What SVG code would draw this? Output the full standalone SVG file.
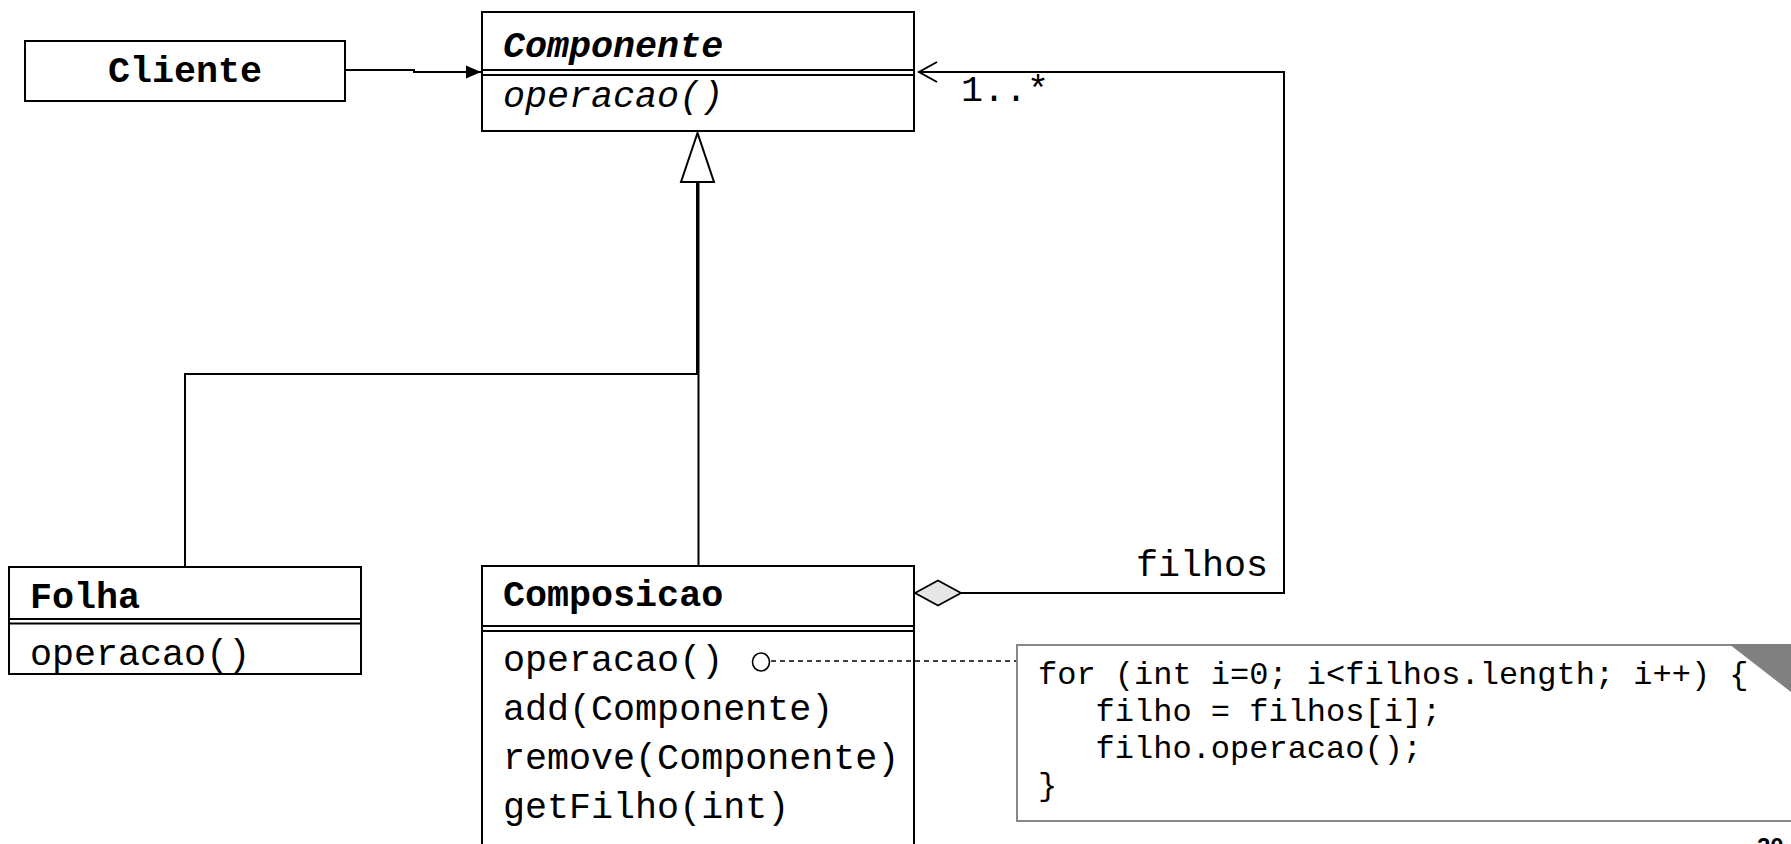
<svg xmlns="http://www.w3.org/2000/svg" width="1791" height="844" viewBox="0 0 1791 844">
<style>
.box{fill:#fff;stroke:#000;stroke-width:2}
.sep{stroke:#000;stroke-width:1.8}
.t{font-family:"Liberation Mono","Courier New",monospace;font-size:36.7px;fill:#000}
.b{font-weight:bold}
.i{font-style:italic}
.edge{fill:none;stroke:#000;stroke-width:2}
.note{font-family:"Liberation Mono","Courier New",monospace;font-size:32px;fill:#000}
</style>
<defs>
<marker id="filled" markerUnits="userSpaceOnUse" markerWidth="16" markerHeight="14" refX="15" refY="7" orient="auto">
<path d="M0,0.5 L15,7 L0,13.5 Z" fill="#000"/>
</marker>
</defs>
<rect width="1791" height="844" fill="#fff"/>

<g id="cliente">
<rect class="box" x="25" y="41" width="320" height="60"/>
<text class="t b" x="185" y="82" text-anchor="middle">Cliente</text>
</g>

<g id="componente">
<rect class="box" x="482" y="12" width="432" height="119"/>
<line class="sep" x1="482" y1="70" x2="914" y2="70"/>
<line class="sep" x1="482" y1="75" x2="914" y2="75"/>
<text class="t b i" x="503" y="57">Componente</text>
<text class="t i" x="503" y="107">operacao()</text>
</g>

<g id="folha">
<rect class="box" x="9" y="567" width="352" height="107"/>
<line class="sep" x1="9" y1="619" x2="361" y2="619"/>
<line class="sep" x1="9" y1="623.5" x2="361" y2="623.5"/>
<text class="t b" x="30" y="608">Folha</text>
<text class="t" x="30" y="665">operacao()</text>
</g>

<g id="composicao">
<rect class="box" x="482" y="566" width="432" height="300"/>
<line class="sep" x1="482" y1="626" x2="914" y2="626"/>
<line class="sep" x1="482" y1="631" x2="914" y2="631"/>
<text class="t b" x="503" y="606">Composicao</text>
<text class="t" x="503" y="671">operacao()</text>
<text class="t" x="503" y="720">add(Componente)</text>
<text class="t" x="503" y="769">remove(Componente)</text>
<text class="t" x="503" y="818">getFilho(int)</text>
</g>

<g id="nota">
<rect x="1017" y="645" width="790" height="176" fill="#fff" stroke="#888" stroke-width="2"/>
<polygon points="1729,644 1800,644 1800,699" fill="#808080"/>
<text class="note" xml:space="preserve" x="1038" y="684">for (int i=0; i&lt;filhos.length; i++) {</text>
<text class="note" xml:space="preserve" x="1038" y="721">   filho = filhos[i];</text>
<text class="note" xml:space="preserve" x="1038" y="758">   filho.operacao();</text>
<text class="note" x="1038" y="795">}</text>
</g>

<g id="connectors">
<path class="edge" d="M345,70 H414 V72 H481" marker-end="url(#filled)"/>
<path class="edge" d="M185,567 V374 H697 V182"/>
<path class="edge" d="M698.5,566 V182"/>
<polygon points="697.5,133 681,182 714,182" fill="#fff" stroke="#000" stroke-width="2"/>
<path class="edge" d="M961,593 H1284 V72 H920"/>
<polyline points="937,62 919,72 937,82" fill="none" stroke="#000" stroke-width="2"/>
<polygon points="915,593 938,580.5 961,593 938,605.5" fill="#e6e6e6" stroke="#000" stroke-width="1.8"/>
<text class="t" x="961" y="101">1..*</text>
<text class="t" x="1268" y="576" text-anchor="end">filhos</text>
<ellipse cx="761" cy="662" rx="8.5" ry="9" fill="none" stroke="#000" stroke-width="1.6"/>
<path d="M771,661 H1016" fill="none" stroke="#000" stroke-width="1.6" stroke-dasharray="5 4"/>
</g>

<text x="1757" y="855" font-family="Liberation Sans, Arial, sans-serif" font-size="24" font-weight="bold" fill="#000">20</text>
</svg>
